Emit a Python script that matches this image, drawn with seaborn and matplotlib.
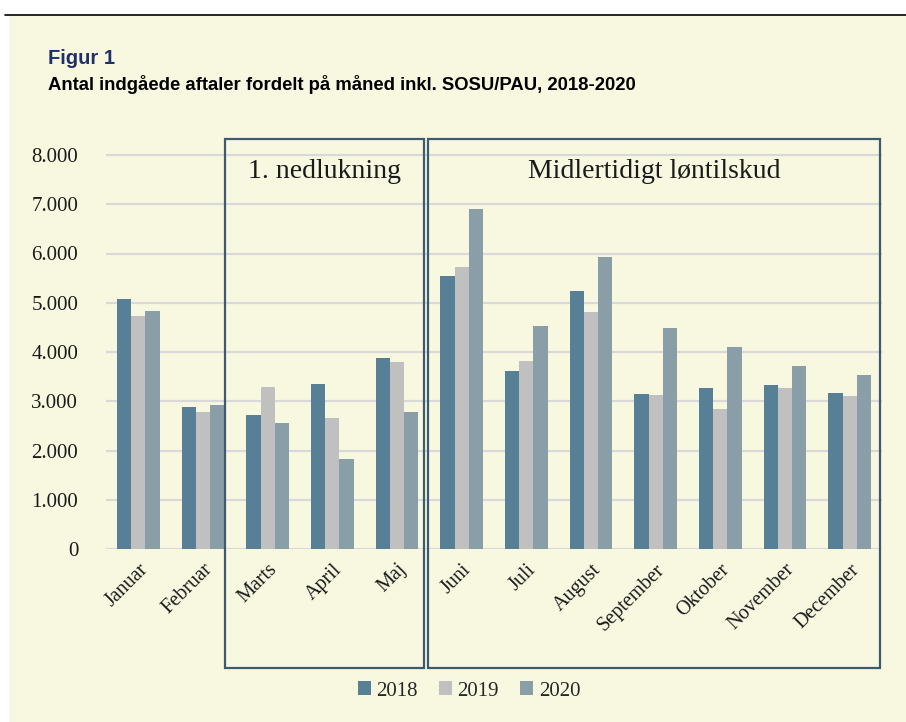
import matplotlib
matplotlib.use("Agg")
import matplotlib.pyplot as plt
import seaborn as sns
import pandas as pd
from matplotlib.patches import Rectangle
from matplotlib.lines import Line2D

months = ["Januar", "Februar", "Marts", "April", "Maj", "Juni", "Juli",
          "August", "September", "Oktober", "November", "December"]
years = ["2018", "2019", "2020"]
v2018 = [5070, 2880, 2720, 3360, 3880, 5540, 3620, 5240, 3140, 3260, 3330, 3170]
v2019 = [4730, 2780, 3290, 2650, 3800, 5730, 3820, 4810, 3130, 2840, 3270, 3110]
v2020 = [4830, 2920, 2560, 1820, 2780, 6900, 4520, 5920, 4480, 4100, 3720, 3530]
yticks = [0, 1000, 2000, 3000, 4000, 5000, 6000, 7000, 8000]
ytick_labels = ["0", "1.000", "2.000", "3.000", "4.000", "5.000", "6.000", "7.000", "8.000"]
box_labels = ["1. nedlukning", "Midlertidigt løntilskud"]
fig_title = "Figur 1"
fig_subtitle = "Antal indgåede aftaler fordelt på måned inkl. SOSU/PAU, 2018-2020"

colors = ["#577F96", "#C0C0C0", "#8A9EA7"]
bg = "#F8F8E1"

df = pd.DataFrame({
    "Måned": months * 3,
    "År": [y for y, v in zip(years, [v2018, v2019, v2020]) for _ in v],
    "Antal": v2018 + v2019 + v2020,
})

sns.set_theme(style="white")
plt.rcParams["font.family"] = ["Liberation Serif", "DejaVu Serif"]

W, H = 906, 722
fig = plt.figure(figsize=(W / 100, H / 100), dpi=100)
fig.patch.set_facecolor("white")

# cream background panel and top rule
fig.add_artist(Rectangle((9 / W, 0), 1 - 9 / W, 1 - 15 / H, transform=fig.transFigure,
                         facecolor=bg, edgecolor="none", zorder=-10))
fig.add_artist(Line2D([5 / W, 1], [1 - 15 / H, 1 - 15 / H], transform=fig.transFigure,
                      color="black", lw=1.2))

ymax = 8200
px_per_unit = 49.25 / 1000
ax_left, ax_right = 106, 882
ax_bottom = 549
ax_top = ax_bottom - ymax * px_per_unit
ax = fig.add_axes([ax_left / W, 1 - ax_bottom / H, (ax_right - ax_left) / W,
                   (ax_bottom - ax_top) / H])
ax.set_facecolor("none")

sns.barplot(data=df, x="Måned", y="Antal", hue="År", palette=colors, ax=ax,
            width=0.66, gap=0, saturation=1, edgecolor="none", linewidth=0, zorder=3)

ax.set_ylim(0, ymax)
ax.set_xlim(-0.5, 11.5)
ax.set_yticks(yticks)
ax.set_yticklabels(ytick_labels)
for y in yticks:
    ax.axhline(y, color="#D9D9D9", lw=1.6, zorder=1)
for s in ax.spines.values():
    s.set_visible(False)
ax.set_xlabel("")
ax.set_ylabel("")
ax.tick_params(axis="y", length=0, pad=20, labelsize=15, labelcolor="#1a1a1a")
ax.tick_params(axis="x", length=0, pad=8, labelsize=14.5, labelcolor="#1a1a1a")
for lab in ax.get_xticklabels():
    lab.set_rotation(45)
    lab.set_ha("right")
    lab.set_va("top")
    lab.set_rotation_mode("anchor")

handles, labels = ax.get_legend_handles_labels()
ax.get_legend().remove()
fig.legend(handles, labels, loc="center", bbox_to_anchor=(469 / W, 1 - 691 / H),
           ncol=3, frameon=False, fontsize=15, handlelength=0.65, handleheight=0.65,
           handletextpad=0.25, columnspacing=1.0)

# boxes
box_color = "#3D5B70"
for (x0, x1), lab in zip([(225, 424), (428, 880)], box_labels):
    fig.add_artist(Rectangle((x0 / W, 1 - 668 / H), (x1 - x0) / W, (668 - 139) / H,
                             transform=fig.transFigure, facecolor="none",
                             edgecolor=box_color, lw=1.6, zorder=5))
    fig.text((x0 + x1) / 2 / W, 1 - 172 / H, lab, ha="center", va="center",
             fontsize=20, color="#1a1a1a")

fig.text(48 / W, 1 - 64 / H, fig_title, ha="left", va="baseline", fontsize=14.5,
         fontweight="bold", color="#1F3168", family=["Liberation Sans", "DejaVu Sans"])
fig.text(48 / W, 1 - 90 / H, fig_subtitle, ha="left", va="baseline", fontsize=13.3,
         fontweight="bold", color="black", family=["Liberation Sans", "DejaVu Sans"])

fig.savefig("out.png", dpi=100, facecolor=fig.get_facecolor())
